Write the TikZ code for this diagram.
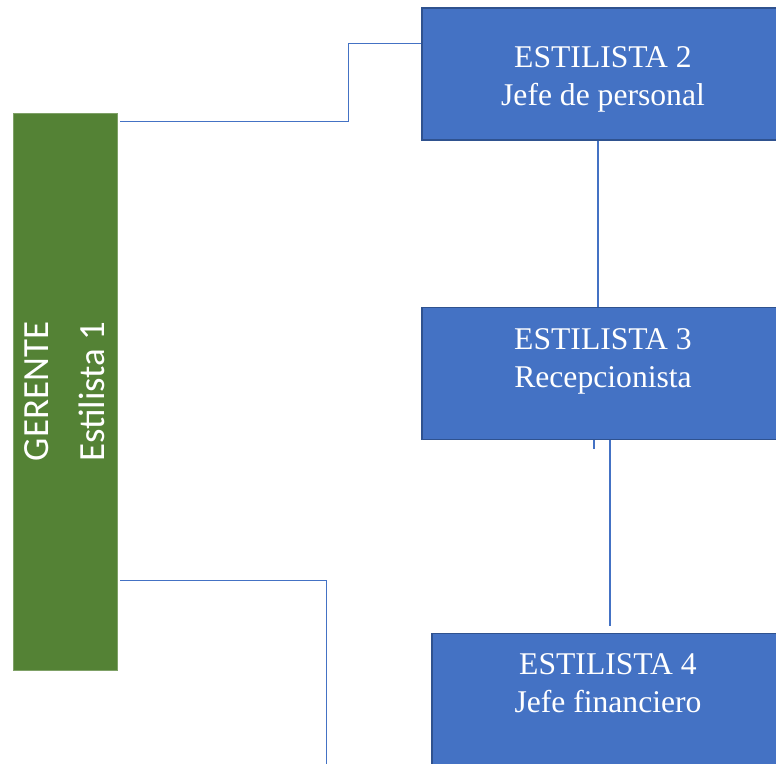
\documentclass[tikz,border=0pt]{standalone}
\usepackage{fontspec}
\setmainfont{Liberation Serif}
\newfontfamily\calibri{Carlito}
\usetikzlibrary{positioning, calc}
\definecolor{jefeblue}{HTML}{4472C4}
\definecolor{jefeborder}{HTML}{2F528F}
\definecolor{gerentegreen}{HTML}{548235}

\begin{document}
\begin{tikzpicture}[
	  x=0.02cm, y=-0.02cm,
	  manager/.style={
	  	rectangle,
	  	fill=gerentegreen,
	  	draw=gerentegreen!75!white,
	  	line width=0.4pt,
	  	minimum width=2.08cm,
	  	minimum height=11.14cm,
	  	inner sep=0pt
	  },
	  managertext/.style={
	  	rotate=90,
	  	text=white,
	  	align=center,
	  	inner sep=0pt,
	  	font=\calibri\fontsize{21}{32}\selectfont
	  },
	  stylist/.style={
		  rectangle,
		  fill=jefeblue,
		  draw=jefeborder,
		  line width=1.1pt,
		  text=white,
		  align=center,
		  minimum width=7.26cm,
		  minimum height=2.64cm,
		  inner sep=0pt,
		  font=\fontsize{18}{21.5}\selectfont
	  },
	  link/.style={draw=jefeblue, line width=0.6pt}]
	\useasboundingbox (0,0) rectangle (776,763);
	\clip (0,0) rectangle (776,763);
	% Root
	\node[manager] (gerente) at (65,391.5) {};
	\node[managertext] (gerente label) at (gerente.center) {GERENTE\\Estilista 1};
	% Stylists
	\node[stylist] (jefe) at (603,74) {ESTILISTA 2\\Jefe de personal\\[-24pt]~};
	\node[stylist] (recep) at (603,373.5) {ESTILISTA 3\\Recepcionista\\[-4pt]~};
	\node[stylist, minimum width=7.04cm] (finan) at (608,699.5) {ESTILISTA 4\\Jefe financiero\\[-3pt]~};
	% Connectors
	\draw[link] ($(gerente.north east)+(3,9)$) -| ($(jefe.north west)+(-72,36)$) -- ($(jefe.north west)+(0,36)$);
	\draw[link] ($(jefe.south)+(-5,0)$) -- ($(recep.north)+(-5,0)$);
	\draw[link] ($(recep.south)+(-9,0)$) -- ($(recep.south)+(-9,9)$);
	\draw[link] ($(recep.south)+(7,0)$) -- ($(finan.north)+(2,-7)$);
	\draw[link] ($(gerente.south east)+(3,-90)$) -| ($(finan.south west)+(-105,0)$);
\end{tikzpicture}
\end{document}
